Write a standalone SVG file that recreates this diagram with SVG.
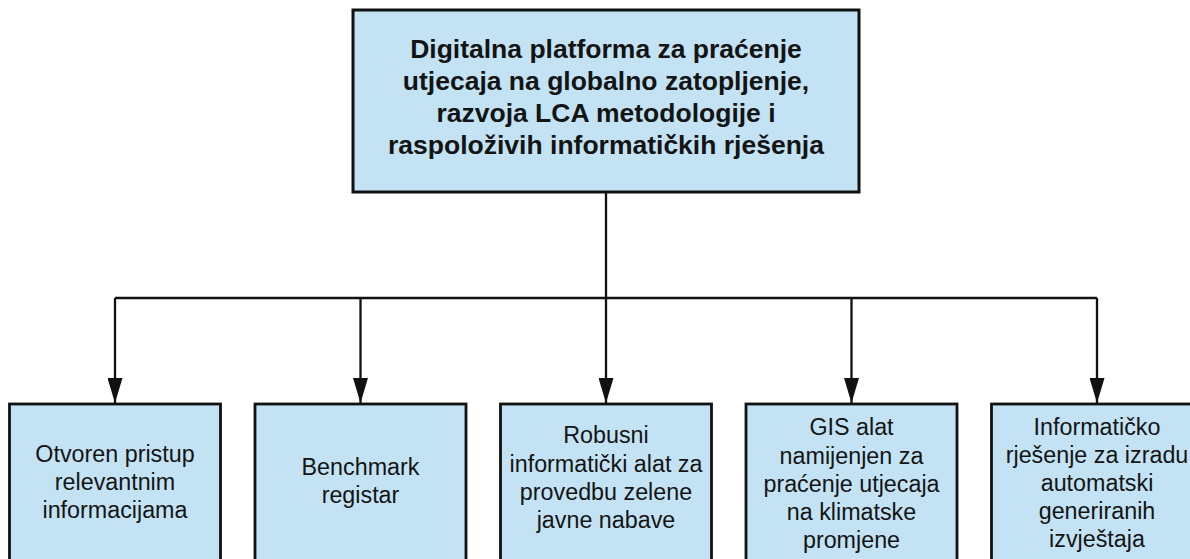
<svg xmlns="http://www.w3.org/2000/svg" width="1190" height="559" viewBox="0 0 1190 559">
<style>
.box{fill:#c3e3f5;stroke:#111;stroke-width:2.8}
.t{font-family:"Liberation Sans",Arial,sans-serif;fill:#141414;text-anchor:middle}
.top{font-size:26.5px;font-weight:bold}
.sub{font-size:23.3px}
.ln{fill:none;stroke:#111;stroke-width:2.3}
</style>
<defs>
<marker id="ah" markerUnits="userSpaceOnUse" markerWidth="25" markerHeight="15" refX="25" refY="7.5" orient="auto">
<path d="M0,0 L25,7.5 L0,15 z" fill="#111"/>
</marker>
</defs>
<rect width="1190" height="559" fill="#fff"/>
<g id="connectors">
<path class="ln" d="M606,192 V298"/>
<path class="ln" d="M115,298 H1097"/>
<path class="ln" d="M115,298 V403" marker-end="url(#ah)"/>
<path class="ln" d="M360.5,298 V403" marker-end="url(#ah)"/>
<path class="ln" d="M606,298 V403" marker-end="url(#ah)"/>
<path class="ln" d="M851.5,298 V403" marker-end="url(#ah)"/>
<path class="ln" d="M1097,298 V403" marker-end="url(#ah)"/>
</g>
<g id="root">
<rect class="box" x="353" y="10" width="506" height="182" style="stroke-width:3"/>
<text class="t top"><tspan x="606" y="58">Digitalna platforma za praćenje</tspan><tspan x="606" y="90">utjecaja na globalno zatopljenje,</tspan><tspan x="606" y="122">razvoja LCA metodologije i</tspan><tspan x="606" y="154">raspoloživih informatičkih rješenja</tspan></text>
</g>
<g id="n1">
<rect class="box" x="9.5" y="404" width="211" height="170"/>
<text class="t sub"><tspan x="115" y="461.5">Otvoren pristup</tspan><tspan x="115" y="490">relevantnim</tspan><tspan x="115" y="518">informacijama</tspan></text>
</g>
<g id="n2">
<rect class="box" x="255" y="404" width="211" height="170"/>
<text class="t sub"><tspan x="360.5" y="475">Benchmark</tspan><tspan x="360.5" y="503">registar</tspan></text>
</g>
<g id="n3">
<rect class="box" x="500.5" y="404" width="211" height="170"/>
<text class="t sub"><tspan x="606" y="443">Robusni</tspan><tspan x="606" y="472">informatički alat za</tspan><tspan x="606" y="500">provedbu zelene</tspan><tspan x="606" y="528">javne nabave</tspan></text>
</g>
<g id="n4">
<rect class="box" x="746" y="404" width="211" height="170"/>
<text class="t sub"><tspan x="851.5" y="435">GIS alat</tspan><tspan x="851.5" y="463.5">namijenjen za</tspan><tspan x="851.5" y="491.5">praćenje utjecaja</tspan><tspan x="851.5" y="520">na klimatske</tspan><tspan x="851.5" y="548">promjene</tspan></text>
</g>
<g id="n5">
<rect class="box" x="991.5" y="404" width="211" height="170"/>
<text class="t sub"><tspan x="1097" y="434.5">Informatičko</tspan><tspan x="1097" y="462.5">rješenje za izradu</tspan><tspan x="1097" y="491">automatski</tspan><tspan x="1097" y="519">generiranih</tspan><tspan x="1097" y="547">izvještaja</tspan></text>
</g>
</svg>
